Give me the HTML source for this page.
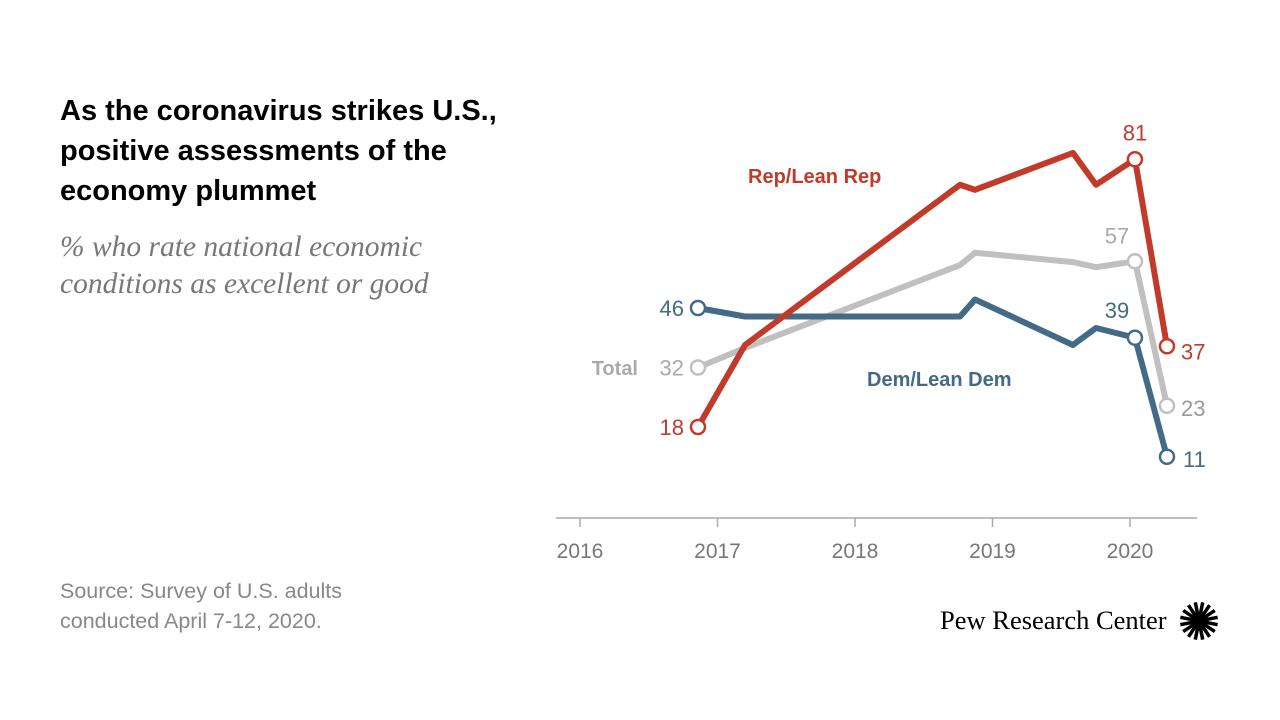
<!DOCTYPE html>
<html><head><meta charset="utf-8"><style>
body{margin:0;width:1280px;height:720px;background:#fff;overflow:hidden;font-family:"Liberation Sans",sans-serif;}
.title{position:absolute;left:60px;top:91px;font-size:29px;font-weight:bold;line-height:40px;color:#000;width:520px;}
.sub{position:absolute;left:60px;top:229px;font-family:"Liberation Serif",serif;font-style:italic;font-size:29.5px;line-height:37px;color:#777;}
.src{position:absolute;left:60px;top:576px;font-size:21.5px;line-height:30px;color:#888;}
.logo{position:absolute;left:940px;top:605px;font-family:"Liberation Serif",serif;font-size:26.5px;color:#000;}
svg{position:absolute;left:0;top:0;}
</style></head><body>
<div class="title">As the coronavirus strikes U.S., positive assessments of the economy plummet</div>
<div class="sub">% who rate national economic<br>conditions as excellent or good</div>
<div class="src">Source: Survey of U.S. adults<br>conducted April 7-12, 2020.</div>
<div class="logo">Pew Research Center</div>
<svg width="1280" height="720" id="chart">
<g id="logo"></g>
</svg>
<script>
const dates=[2016.858,2017.2,2018.764,2018.873,2019.585,2019.753,2020.036,2020.269];
const rep=[18,37.3,75,73.8,82.5,75,81,37];
const total=[32,36.6,56.1,59,56.8,55.6,57,23];
const dem=[46,44,44,48,37.3,41.3,39,11];
const years=[2016,2017,2018,2019,2020];
const NS='http://www.w3.org/2000/svg';
const svg=document.getElementById('chart');
const x=d=>580+(d-2016)*137.5;
const y=v=>503.5-v*4.25;
function mk(t,a,p){const e=document.createElementNS(NS,t);for(const k in a)e.setAttribute(k,a[k]);(p||svg).appendChild(e);return e;}
const ax=mk('line',{x1:556,x2:1197,y1:518,y2:518,stroke:'#aaa','stroke-width':1.5});


years.forEach(yr=>{
 const t=mk('line',{x1:x(yr),x2:x(yr),y1:518,y2:527,stroke:'#aaa','stroke-width':1.5});
 
 
 const l=mk('text',{x:x(yr),y:558,'text-anchor':'middle','font-size':21,fill:'#777'});l.textContent=yr;
 
 
});
const series=[
 {v:total,c:'#c0c0c0',n:'total'},
 {v:dem,c:'#436a87',n:'dem'},
 {v:rep,c:'#c23b2a',n:'rep'}];
series.forEach(s=>{
 const p=mk('polyline',{points:s.v.map((v,i)=>x(dates[i])+','+y(v)).join(' '),fill:'none',stroke:s.c,'stroke-width':6,'stroke-linejoin':'round'});
 
 
});
series.forEach(s=>{
 [0,s.v.length-2,s.v.length-1].forEach(i=>{
  const c=mk('circle',{cx:x(dates[i]),cy:y(s.v[i]),r:7,fill:'#fff',stroke:s.c,'stroke-width':2.5});
  
  
 });
});
function lab(txt,xx,yy,col,anchor,bold,name){
 const t=mk('text',{x:xx,y:yy,'text-anchor':anchor,'font-size':bold?20:22,'font-weight':bold?'bold':'normal',fill:col});
 t.textContent=txt;
 
 
}
const L=dates.length-1;
lab(rep[0],x(dates[0])-14,y(rep[0])+8,'#c23b2a','end',0,'rep-start-label');
lab(rep[L-1],x(dates[L-1]),y(rep[L-1])-19,'#c23b2a','middle',0,'rep-peak-label');
lab(rep[L],x(dates[L])+14,y(rep[L])+13,'#c23b2a','start',0,'rep-end-label');
lab(total[0],x(dates[0])-14,y(total[0])+8,'#aaa','end',0,'total-start-label');
lab(total[L-1],x(dates[L-1])-18,y(total[L-1])-18,'#aaa','middle',0,'total-prev-label');
lab(total[L],x(dates[L])+14,y(total[L])+10,'#999','start',0,'total-end-label');
lab(dem[0],x(dates[0])-14,y(dem[0])+8,'#436a87','end',0,'dem-start-label');
lab(dem[L-1],x(dates[L-1])-18,y(dem[L-1])-20,'#436a87','middle',0,'dem-prev-label');
lab(dem[L],x(dates[L])+16,y(dem[L])+10,'#436a87','start',0,'dem-end-label');
lab('Rep/Lean Rep',748,183,'#c23b2a','start',1,'rep-legend');
lab('Dem/Lean Dem',867,386,'#436a87','start',1,'dem-legend');
lab('Total',638,375,'#aaa','end',1,'total-legend');
const g=document.getElementById('logo');
for(let i=0;i<16;i++){const a=i*Math.PI/8+Math.PI/16;
 mk('line',{x1:1199+6*Math.cos(a),y1:621+6*Math.sin(a),x2:1199+19*Math.cos(a),y2:621+19*Math.sin(a),stroke:'#000','stroke-width':3.5},g);}
mk('circle',{cx:1199,cy:621,r:7,fill:'#000'},g);
</script>
</body></html>
